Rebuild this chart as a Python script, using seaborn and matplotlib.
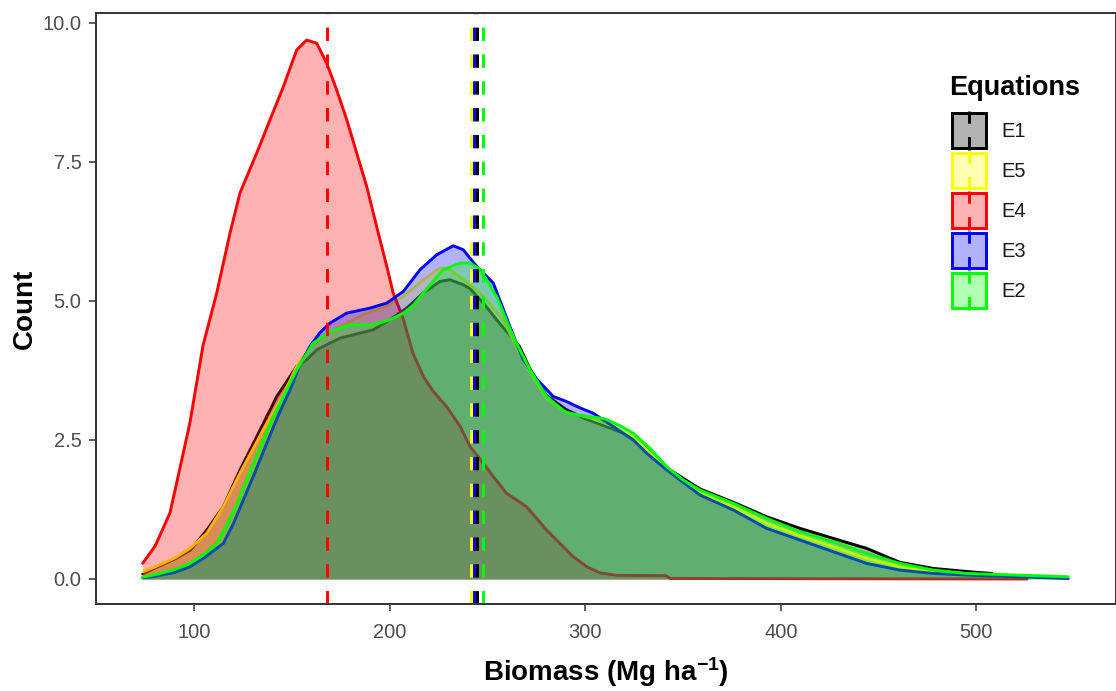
import numpy as np
import pandas as pd
import matplotlib
matplotlib.use("Agg")
import matplotlib.pyplot as plt
import seaborn as sns
from matplotlib.legend_handler import HandlerBase
from matplotlib.patches import Rectangle
from matplotlib.lines import Line2D
from matplotlib.colors import to_rgba

# ---------------- data ----------------
equations = ["E1", "E5", "E4", "E3", "E2"]
colors = {"E1": "black", "E5": "#FFFF00", "E4": "#FF0000", "E3": "#0000FF", "E2": "#00FF00"}

x_E1 = [73.5, 80, 90, 98, 106.3, 114.8, 123.3, 131.9, 142.1, 152.3, 157.4, 162.6, 169.3, 174.5,
        181.3, 191.5, 200, 208.6, 217, 225.6, 230.7, 237.5, 241, 247.8, 256, 266.3, 272, 280,
        290, 300, 310, 324.5, 341.6, 358.6, 375.7, 392.7, 409.8, 426.8, 443.9, 460.9, 478, 500, 508]
y_E1 = [0.09, 0.2, 0.36, 0.52, 0.88, 1.3, 1.96, 2.56, 3.28, 3.82, 3.94, 4.12, 4.24, 4.33,
        4.39, 4.48, 4.66, 4.87, 5.14, 5.35, 5.38, 5.29, 5.22, 4.96, 4.6, 4.18, 3.75, 3.3,
        3.05, 2.88, 2.75, 2.55, 2.0, 1.62, 1.38, 1.12, 0.91, 0.73, 0.55, 0.3, 0.19, 0.12, 0.1]

x_E5 = [73.5, 80, 90, 97.7, 106.3, 114.8, 123.3, 135.2, 145.5, 152, 160, 170, 178, 186.4, 198,
        206.9, 217, 225.6, 230.7, 237.5, 246.1, 258, 266.3, 272, 280, 290, 302, 314, 324.5,
        341.6, 358.6, 375.7, 392.7, 409.8, 426.8, 443.9, 460.9, 478, 495, 522]
y_E5 = [0.13, 0.22, 0.38, 0.55, 0.82, 1.3, 1.9, 2.68, 3.31, 3.8, 4.2, 4.45, 4.6, 4.75, 4.9,
        5.08, 5.38, 5.59, 5.56, 5.38, 5.14, 4.66, 4.06, 3.7, 3.25, 3.0, 2.9, 2.75, 2.55,
        1.98, 1.56, 1.3, 1.0, 0.78, 0.58, 0.37, 0.22, 0.13, 0.08, 0.05]

x_E4 = [73.5, 80, 87.5, 92, 97.7, 104.4, 111.4, 118.2, 123.3, 131.9, 138.7, 145.5, 152.3, 157.4,
        162.6, 167.7, 172.8, 177.9, 183.0, 188.1, 193.2, 198.4, 201.7, 206.7, 211.8, 217.1, 222,
        229.2, 236, 241, 247.8, 252.9, 259.7, 269.9, 280.2, 287.0, 293.8, 300.7, 307.5, 316, 341,
        343.5, 420, 526]
y_E4 = [0.28, 0.6, 1.19, 1.9, 2.81, 4.2, 5.14, 6.22, 6.94, 7.66, 8.26, 8.85, 9.51, 9.69,
        9.63, 9.27, 8.79, 8.26, 7.66, 7.06, 6.34, 5.62, 5.14, 4.69, 4.06, 3.64, 3.38,
        3.09, 2.74, 2.38, 2.08, 1.84, 1.54, 1.30, 0.88, 0.64, 0.40, 0.22, 0.11, 0.066, 0.06,
        0.01, 0.005, 0.0]

x_E3 = [73.5, 80, 90, 97.7, 105, 114.8, 120, 125, 131, 137, 143, 148.9, 154, 159.1, 164, 169.3,
        177.9, 189.8, 198.4, 206.9, 215.4, 224, 232.4, 237.5, 244.4, 252.9, 261.4, 268, 275,
        283.6, 290.4, 297, 304, 314.3, 324.5, 331.4, 341.6, 358.6, 375.7, 392.7, 409.8, 426.8,
        443.9, 460.9, 478, 495, 520.6, 547]
y_E3 = [0.02, 0.05, 0.12, 0.22, 0.38, 0.64, 1.0, 1.42, 1.92, 2.44, 2.95, 3.4, 3.85, 4.18, 4.42, 4.6,
        4.78, 4.87, 4.96, 5.17, 5.56, 5.83, 5.99, 5.92, 5.62, 5.32, 4.54, 3.95, 3.6,
        3.28, 3.19, 3.08, 2.98, 2.74, 2.5, 2.26, 1.96, 1.51, 1.24, 0.91, 0.70, 0.49,
        0.28, 0.16, 0.10, 0.07, 0.04, 0.01]

x_E2 = [73.5, 80, 90, 97.7, 105, 111.4, 117, 123.3, 129, 135.2, 140, 145.5, 152.3, 160.8, 169.3,
        179.6, 191.5, 200, 206.9, 212, 217.1, 222, 227.3, 235.9, 241, 245.5, 249.5, 255, 263.1,
        271.7, 280.2, 290.4, 302.4, 310, 318, 324.5, 333, 341.6, 350, 358.6, 375.7, 392.7,
        409.8, 426.8, 443.9, 460.9, 478, 495, 520.6, 547]
y_E2 = [0.03, 0.08, 0.17, 0.28, 0.45, 0.64, 1.0, 1.48, 1.98, 2.5, 2.9, 3.28, 3.76, 4.24, 4.45,
        4.57, 4.57, 4.66, 4.78, 4.92, 5.14, 5.35, 5.56, 5.68, 5.68, 5.58, 5.38, 5.05, 4.36,
        3.76, 3.28, 2.98, 2.92, 2.88, 2.75, 2.62, 2.35, 2.02, 1.78, 1.6, 1.36, 1.09,
        0.85, 0.67, 0.46, 0.28, 0.16, 0.10, 0.07, 0.04]

means = {"E1": 244.7, "E5": 241.3, "E4": 167.7, "E3": 243.2, "E2": 247.8}
xticks = [100, 200, 300, 400, 500]
yticks = [0.0, 2.5, 5.0, 7.5, 10.0]

series = {"E1": (x_E1, y_E1), "E5": (x_E5, y_E5), "E4": (x_E4, y_E4),
          "E3": (x_E3, y_E3), "E2": (x_E2, y_E2)}
df = pd.concat([pd.DataFrame({"Biomass": xs, "Count": ys, "Equations": k})
                for k, (xs, ys) in series.items()], ignore_index=True)

# ---------------- style ----------------
sns.set_theme(style="ticks")
plt.rcParams["font.family"] = ["Liberation Sans", "DejaVu Sans"]
plt.rcParams["mathtext.fontset"] = "custom"
plt.rcParams["mathtext.rm"] = "Liberation Sans"
plt.rcParams["mathtext.bf"] = "Liberation Sans:bold"
plt.rcParams["mathtext.default"] = "bf"

W, H = 1116, 691
fig = plt.figure(figsize=(W / 100, H / 100), dpi=100)
ax = fig.add_axes([96.3 / W, 1 - 604.3 / H, (1115.5 - 96.3) / W, (604.3 - 13.3) / H])

LW = 2.1
DASH = (4.6, 4.6)
for i, eq in enumerate(equations):
    d = df[df["Equations"] == eq]
    ax.fill_between(d["Biomass"], d["Count"], 0, color=to_rgba(colors[eq], 0.3), lw=0,
                    zorder=2 * i + 1)
    sns.lineplot(data=d, x="Biomass", y="Count", color=colors[eq], lw=LW, ax=ax,
                 estimator=None, sort=False, legend=False, zorder=2 * i + 2)

for eq in ["E5", "E4", "E3", "E1", "E2"]:
    ax.axvline(means[eq], color=colors[eq], lw=LW, dashes=DASH, zorder=20)

ax.set_xlim(49.8, 571.2)
ax.set_ylim(-0.455, 10.17)
ax.set_xticks(xticks)
ax.set_yticks(yticks)
ax.set_yticklabels([f"{v:.1f}" for v in yticks])

for s in ax.spines.values():
    s.set_visible(True)
    s.set_color("#333333")
    s.set_linewidth(1.4)
    s.set_zorder(30)
ax.tick_params(axis="both", length=5.2, width=1.1, color="#333333",
               labelsize=14.5, labelcolor="#4D4D4D")
ax.tick_params(axis="x", pad=8)
ax.tick_params(axis="y", pad=5.5)

ax.set_xlabel("Biomass (Mg ha$^{-1}$)", fontsize=20, fontweight="bold", color="black", labelpad=10)
ax.set_ylabel("Count", fontsize=20, fontweight="bold", color="black", labelpad=3)


# ---------------- legend ----------------
class KeyHandler(HandlerBase):
    def create_artists(self, legend, orig_handle, xdescent, ydescent, width, height, fontsize, trans):
        c = orig_handle.get_color()
        rect = Rectangle((-xdescent, -ydescent), width, height, facecolor=to_rgba(c, 0.3),
                         edgecolor=c, lw=LW, transform=trans)
        xm = -xdescent + width / 2
        ln = Line2D([xm, xm], [-ydescent - 1.5, -ydescent + height + 1.5], color=c, lw=LW,
                    dashes=DASH, transform=trans)
        return [rect, ln]


handles = [Line2D([], [], color=colors[eq]) for eq in equations]
fs_px = 14.5 * 100 / 72
key_h = 34.5
hh = (key_h / fs_px - 0.245) / 0.65
fig.text(949.3 / W, 1 - 95 / H, "Equations", fontsize=19.5, fontweight="bold",
         ha="left", va="baseline", color="black")
fig.legend(handles, equations, handler_map={Line2D: KeyHandler()},
           loc="upper left", bbox_to_anchor=(952.2 / W, 1 - 113.2 / H),
           bbox_transform=fig.transFigure, frameon=False, fontsize=14.5,
           borderpad=0, borderaxespad=0, handlelength=34.0 / fs_px,
           handleheight=hh, labelspacing=(40.0 - key_h) / fs_px,
           handletextpad=15.5 / fs_px, labelcolor="#1A1A1A")

fig.savefig("out.png", dpi=100)
